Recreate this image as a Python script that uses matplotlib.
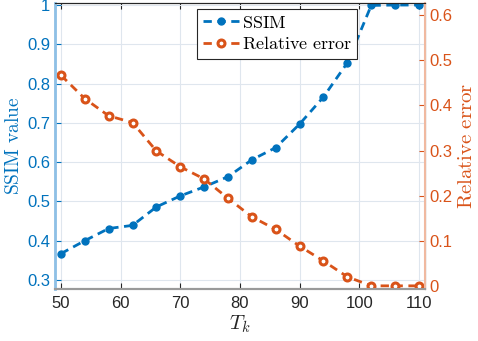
import numpy as np
import matplotlib
matplotlib.use("Agg")
import matplotlib.pyplot as plt

plt.rcParams['font.family'] = ['Liberation Sans', 'DejaVu Sans']
plt.rcParams['mathtext.fontset'] = 'cm'

# data
T_k = [50, 54, 58, 62, 66, 70, 74, 78, 82, 86, 90, 94, 98, 102, 106, 110]
ssim = [0.367, 0.400, 0.431, 0.439, 0.486, 0.514, 0.537, 0.563,
        0.606, 0.637, 0.697, 0.766, 0.853, 0.999, 1.0, 1.0]
rel_err = [0.467, 0.415, 0.377, 0.362, 0.299, 0.264, 0.237, 0.194,
           0.153, 0.125, 0.088, 0.055, 0.020, 0.0, 0.0, 0.0]

blue = '#0072BD'
orange = '#D95319'

fig = plt.figure(figsize=(4.78, 3.41), dpi=100)
ax = fig.add_axes([0.115, 0.1525, 0.774, 0.8385])
ax2 = ax.twinx()

l1, = ax.plot(T_k, ssim, '--', color=blue, lw=2, dashes=(3, 2),
              marker='o', ms=5, mfc=blue, mec=blue, label=r'$\mathrm{SSIM}$')
l2, = ax2.plot(T_k, rel_err, '--', color=orange, lw=2, dashes=(3, 2),
               marker='o', ms=5, mfc='white', mec=orange, mew=2.2,
               label=r'$\mathrm{Relative\ error}$')

ax.set_xlim(49, 111)
ax.set_ylim(0.277, 1.005)
ax2.set_ylim(-0.007, 0.627)
ax.set_xticks(np.arange(50, 111, 10))
ax.set_yticks(np.arange(0.3, 1.01, 0.1))
ax.set_yticklabels(['0.3', '0.4', '0.5', '0.6', '0.7', '0.8', '0.9', '1'])
ax2.set_yticks(np.arange(0, 0.61, 0.1))
ax2.set_yticklabels(['0', '0.1', '0.2', '0.3', '0.4', '0.5', '0.6'])

ax.grid(True, color='#dfe6ee', lw=0.8)
ax.set_axisbelow(True)

ax.tick_params(axis='x', direction='in', labelsize=12, colors='#262626',
               top=True, length=4, pad=5)
ax.tick_params(axis='y', direction='in', labelsize=12, colors=blue, length=4)
ax2.tick_params(axis='y', direction='in', labelsize=12, colors=orange, length=4)

for a in (ax, ax2):
    a.spines['top'].set_color('#262626')
    a.spines['bottom'].set_color('#9a9a9a')
    a.spines['bottom'].set_linewidth(1.5)
ax2.spines['left'].set_color('#8ec0e6')
ax2.spines['left'].set_linewidth(2)
ax2.spines['right'].set_color('#f0b9a0')
ax2.spines['right'].set_linewidth(1.5)

ax.set_xlabel(r'$T_k$', fontsize=15, color='#262626', labelpad=2)
ax.set_ylabel(r'$\mathrm{SSIM\ value}$', fontsize=14, color=blue, labelpad=3)
ax2.set_ylabel(r'$\mathrm{Relative\ error}$', fontsize=15, color=orange,
               labelpad=3)

leg = ax2.legend([l1, l2], [l1.get_label(), l2.get_label()],
                 loc='upper left', bbox_to_anchor=(0.385, 0.978),
                 fontsize=13, fancybox=False, framealpha=1,
                 edgecolor='#262626', handlelength=2.0, handletextpad=0.15,
                 borderpad=0.3, labelspacing=0.25, borderaxespad=0)
leg.get_frame().set_linewidth(0.8)

fig.savefig('out.png', dpi=100)
